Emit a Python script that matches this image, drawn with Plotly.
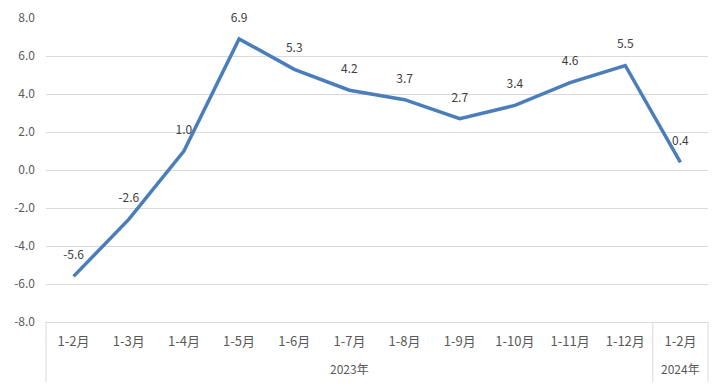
import plotly.graph_objects as go

months = ["1-2月", "1-3月", "1-4月", "1-5月", "1-6月", "1-7月", "1-8月",
          "1-9月", "1-10月", "1-11月", "1-12月", "1-2月 "]
values = [-5.6, -2.6, 1.0, 6.9, 5.3, 4.2, 3.7, 2.7, 3.4, 4.6, 5.5, 0.4]
groups = ["2023年", "2024年"]
group_sizes = [11, 1]
y_ticks = [-8, -6, -4, -2, 0, 2, 4, 6, 8]

FONT = "Noto Sans CJK SC"
n = len(months)

fig = go.Figure()
fig.add_trace(go.Scatter(
    x=list(range(n)), y=values,
    mode="lines+markers+text",
    line=dict(color="#4a7ebb", width=3.5),
    marker=dict(size=21, color="rgba(0,0,0,0)"),
    text=[f"{v:.1f}" for v in values],
    textposition="top center",
    textfont=dict(family=FONT, size=12, color="#404040"),
    cliponaxis=False,
    hoverinfo="skip",
))

W, H = 728, 390
ml, mr, mt, mb = 46, 20, 18, 68
plot_h = H - mt - mb
fig.update_layout(
    width=W, height=H,
    margin=dict(l=ml, r=mr, t=mt, b=mb, autoexpand=False),
    paper_bgcolor="white", plot_bgcolor="white",
    showlegend=False,
    font=dict(family=FONT, size=12, color="#595959"),
    xaxis=dict(
        range=[-0.5, n - 0.5],
        tickmode="array", tickvals=list(range(n)), ticktext=[m.strip() for m in months],
        showgrid=False, zeroline=False,
        showline=True, linecolor="#d9d9d9", linewidth=1,
        ticks="", ticklabelstandoff=7, automargin=False,
        tickfont=dict(family=FONT, size=13, color="#595959"),
        fixedrange=True,
    ),
    yaxis=dict(
        range=[-8, 8],
        tickmode="array", tickvals=y_ticks, ticktext=[f"{t:.1f}" for t in y_ticks],
        showgrid=True, gridcolor="#d9d9d9", gridwidth=1,
        zeroline=False, showline=False, ticks="",
        ticklabelstandoff=10, automargin=False,
        tickfont=dict(family=FONT, size=12, color="#595959"),
        fixedrange=True,
    ),
)

# category group dividers and labels
div_bottom = -60 / plot_h
label_y = -46 / plot_h
start = 0
bounds = [0]
for s in group_sizes:
    start += s
    bounds.append(start)
for b in bounds:
    fig.add_shape(type="line", xref="paper", yref="paper",
                  x0=b / n, x1=b / n, y0=0, y1=div_bottom,
                  line=dict(color="#d9d9d9", width=1))
for i, g in enumerate(groups):
    cx = (bounds[i] + bounds[i + 1]) / 2 / n
    fig.add_annotation(x=cx, y=label_y, xref="paper", yref="paper",
                       text=g, showarrow=False,
                       font=dict(family=FONT, size=12, color="#595959"),
                       xanchor="center", yanchor="middle")

fig.write_html("out.html",
               config={"displayModeBar": False, "staticPlot": True},
               post_script="document.body.style.margin='0';document.body.style.overflow='hidden';")
